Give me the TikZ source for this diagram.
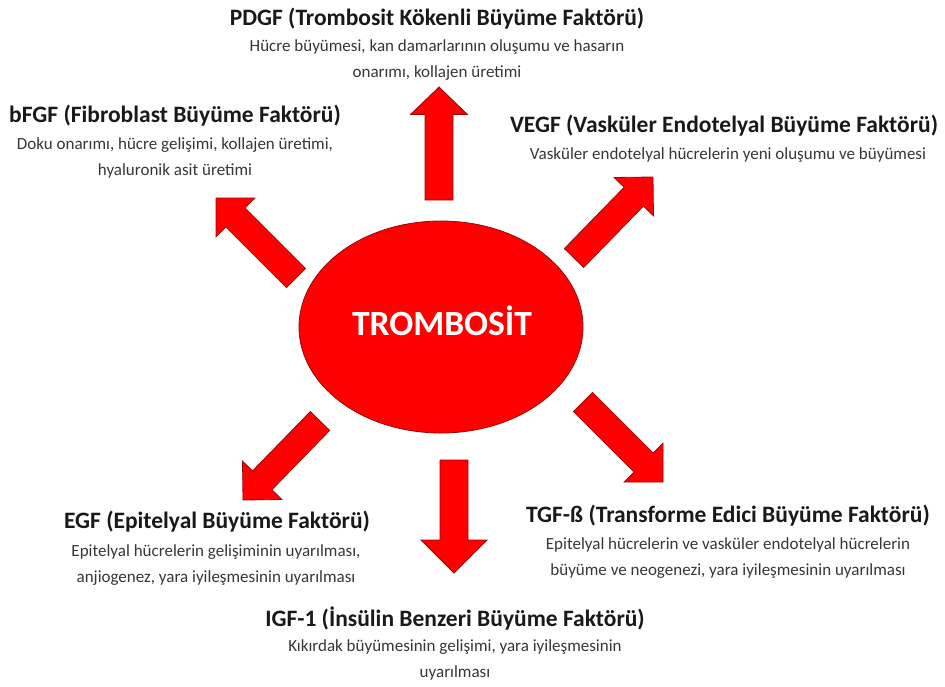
\documentclass[tikz,border=0pt]{standalone}
\usepackage{fontspec}
\setmainfont{Carlito}
\usetikzlibrary{calc,shapes.geometric}
\definecolor{arrred}{RGB}{255,0,0}
\definecolor{edgered}{RGB}{150,10,10}
\definecolor{titlecol}{RGB}{25,25,25}
\definecolor{bodycol}{RGB}{55,55,55}
\tikzset{
  blockarr/.style={fill=arrred,draw=edgered,line width=0.8pt,line join=miter},
  titletext/.style={font=\fontsize{23.5}{27}\selectfont\bfseries,text=titlecol,inner sep=0pt},
  bodytext/.style={font=\fontsize{17}{25.5}\selectfont,text=bodycol,align=center,inner sep=0pt},
}
% #1 base, #2 tip, #3 shaft half width, #4 head half width, #5 head length, #6 prefix
\newcommand\blockarrow[6]{%
  \coordinate (#6h) at ($(#2)!#5!(#1)$);
  \draw[blockarr] ($(#1)!#3!90:(#2)$) -- ($(#6h)!#3!90:(#2)$) -- ($(#6h)!#4!90:(#2)$)
    -- (#2) -- ($(#6h)!#4!-90:(#2)$) -- ($(#6h)!#3!-90:(#2)$) -- ($(#1)!#3!-90:(#2)$) -- cycle;
}
\begin{document}
\begin{tikzpicture}[x=1pt,y=-1pt]
\useasboundingbox (0,0) rectangle (945,686);
\fill[white] (0,0) rectangle (945,686);

% central ellipse
\node[ellipse,fill=arrred,draw=edgered,line width=0.8pt,minimum width=284pt,minimum height=212pt,inner sep=0pt] (trombosit) at (441,327) {};
\node[font=\fontsize{35.5}{40}\selectfont\bfseries,text=white,inner sep=0pt] (trlabel) at (442,321) {TROMBOSİT};

% arrow coordinates
\coordinate (upB) at (439,200);  \coordinate (upT) at (439,87);
\coordinate (ulB) at (296,278);  \coordinate (ulT) at (216,198);
\coordinate (urB) at (574,258);  \coordinate (urT) at (653,177);
\coordinate (llB) at (320,421);  \coordinate (llT) at (243,500);
\coordinate (lrB) at (583,402);  \coordinate (lrT) at (663,482);
\coordinate (dnB) at (454,460);  \coordinate (dnT) at (454,573);

\blockarrow{upB}{upT}{14pt}{28.5pt}{27.5pt}{up}
\blockarrow{ulB}{ulT}{13.5pt}{27.5pt}{27.5pt}{ul}
\blockarrow{urB}{urT}{13.5pt}{27.5pt}{27.5pt}{ur}
\blockarrow{llB}{llT}{13.5pt}{27.5pt}{27.5pt}{ll}
\blockarrow{lrB}{lrT}{13.5pt}{27.5pt}{27.5pt}{lr}
\blockarrow{dnB}{dnT}{14pt}{33pt}{33pt}{dn}

% labels
\node[titletext] (pdgfT) at (437,19) {PDGF (Trombosit Kökenli Büyüme Faktörü)};
\node[bodytext] (pdgfB) at (437,60) {Hücre büyümesi, kan damarlarının oluşumu ve hasarın\\onarımı, kollajen üretimi};

\node[titletext] (bfgfT) at (175,116) {bFGF (Fibroblast Büyüme Faktörü)};
\node[bodytext] (bfgfB) at (175,158) {Doku onarımı, hücre gelişimi, kollajen üretimi,\\hyaluronik asit üretimi};

\node[titletext] (vegfT) at (724,126) {VEGF (Vasküler Endotelyal Büyüme Faktörü)};
\node[bodytext] (vegfB) at (728,155) {Vasküler endotelyal hücrelerin yeni oluşumu ve büyümesi};

\node[titletext] (egfT) at (217,522) {EGF (Epitelyal Büyüme Faktörü)};
\node[bodytext] (egfB) at (216,565) {Epitelyal hücrelerin gelişiminin uyarılması,\\anjiogenez, yara iyileşmesinin uyarılması};

\node[titletext] (tgfT) at (728,516) {TGF-ß (Transforme Edici Büyüme Faktörü)};
\node[bodytext] (tgfB) at (728,558) {Epitelyal hücrelerin ve vasküler endotelyal hücrelerin\\büyüme ve neogenezi, yara iyileşmesinin uyarılması};

\node[titletext] (igfT) at (455,619) {IGF-1 (İnsülin Benzeri Büyüme Faktörü)};
\node[bodytext] (igfB) at (455,660) {Kıkırdak büyümesinin gelişimi, yara iyileşmesinin\\uyarılması};
\end{tikzpicture}
\end{document}
